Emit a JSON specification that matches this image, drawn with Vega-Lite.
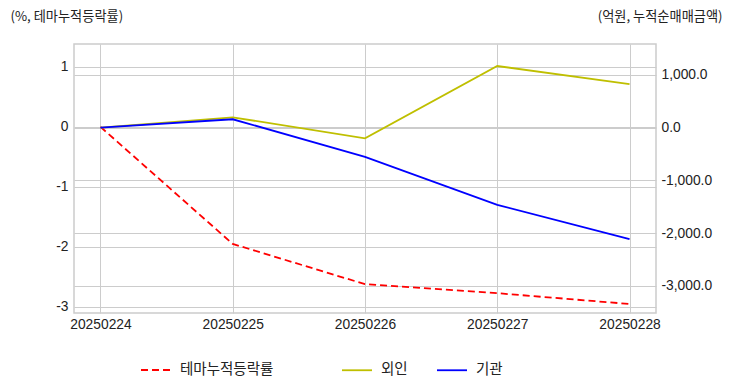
{
  "$schema": "https://vega.github.io/schema/vega-lite/v6.json",
  "width": 582,
  "height": 269,
  "autosize": {"type": "none"},
  "padding": {"left": 74, "top": 44, "right": 76, "bottom": 79},
  "background": "white",
  "config": {
    "view": {"stroke": "#cccccc", "strokeWidth": 1.5},
    "axis": {
      "labelFont": "Liberation Sans",
      "labelFontSize": 13.8,
      "labelColor": "#222222",
      "titleFont": "Noto Sans CJK KR",
      "titleFontSize": 13.2,
      "titleFontWeight": "normal",
      "titleColor": "#222222",
      "gridColor": "#cccccc",
      "gridWidth": 1,
      "domain": false,
      "ticks": false
    },
    "legend": {
      "labelFont": "Noto Sans CJK KR",
      "labelFontSize": 14.5,
      "labelColor": "#222222",
      "symbolType": "stroke",
      "symbolSize": 900,
      "symbolStrokeWidth": 1.8,
      "labelOffset": 8,
      "padding": 0,
      "direction": "horizontal",
      "orient": "none"
    }
  },
  "data": {
    "values": [
      {"date": "20250224", "series": "테마누적등락률", "value": 0},
      {"date": "20250225", "series": "테마누적등락률", "value": -1.95},
      {"date": "20250226", "series": "테마누적등락률", "value": -2.62},
      {"date": "20250227", "series": "테마누적등락률", "value": -2.77},
      {"date": "20250228", "series": "테마누적등락률", "value": -2.95},
      {"date": "20250224", "series": "외인", "value": 0},
      {"date": "20250225", "series": "외인", "value": 197},
      {"date": "20250226", "series": "외인", "value": -201},
      {"date": "20250227", "series": "외인", "value": 1170},
      {"date": "20250228", "series": "외인", "value": 827},
      {"date": "20250224", "series": "기관", "value": 0},
      {"date": "20250225", "series": "기관", "value": 160},
      {"date": "20250226", "series": "기관", "value": -553},
      {"date": "20250227", "series": "기관", "value": -1465},
      {"date": "20250228", "series": "기관", "value": -2112}
    ]
  },
  "layer": [
    {
      "transform": [{"filter": {"field": "series", "oneOf": ["테마누적등락률"]}}],
      "mark": {"type": "line", "strokeWidth": 1.8, "clip": true},
      "encoding": {
        "x": {
          "field": "date", "type": "ordinal", "sort": null,
          "scale": {"type": "point", "padding": 0.2},
          "axis": {"title": null, "labelAngle": 0, "grid": true, "labelPadding": 4}
        },
        "y": {
          "field": "value", "type": "quantitative",
          "scale": {"domain": [-3.1, 1.38], "nice": false, "zero": false},
          "axis": {
            "orient": "left", "values": [-3, -2, -1, 0, 1], "format": "d",
            "labelExpr": "replace(datum.label, '\u2212', '-')",
            "labelPadding": 6, "grid": true,
            "title": "(%, 테마누적등락률)", "titleAngle": 0,
            "titleAlign": "left", "titleBaseline": "middle",
            "titleX": -64, "titleY": -28
          }
        },
        "color": {
          "field": "series", "type": "nominal",
          "scale": {"domain": ["테마누적등락률"], "range": ["#ff0000"]},
          "legend": {"title": null, "legendX": 66, "legendY": 310}
        },
        "strokeDash": {
          "field": "series", "type": "nominal",
          "scale": {"domain": ["테마누적등락률"], "range": [[7, 4]]},
          "legend": {"title": null, "legendX": 66, "legendY": 310}
        }
      }
    },
    {
      "transform": [{"filter": {"field": "series", "oneOf": ["외인", "기관"]}}],
      "mark": {"type": "line", "strokeWidth": 1.8, "clip": true},
      "encoding": {
        "x": {
          "field": "date", "type": "ordinal", "sort": null,
          "scale": {"type": "point", "padding": 0.2},
          "axis": {"title": null, "labelAngle": 0, "grid": true, "labelPadding": 4}
        },
        "y": {
          "field": "value", "type": "quantitative",
          "scale": {"domain": [-3516, 1588], "nice": false, "zero": false},
          "axis": {
            "orient": "right", "values": [-3000, -2000, -1000, 0, 1000], "format": ",.1f",
            "labelExpr": "replace(datum.label, '\u2212', '-')",
            "labelPadding": 5, "grid": true,
            "title": "(억원, 누적순매매금액)", "titleAngle": 0,
            "titleAlign": "right", "titleBaseline": "middle",
            "titleX": 66, "titleY": -28
          }
        },
        "color": {
          "field": "series", "type": "nominal",
          "sort": ["외인", "기관"],
          "scale": {"domain": ["외인", "기관"], "range": ["#bfbf00", "#0000ff"]},
          "legend": {"title": null, "legendX": 267, "legendY": 310, "columnPadding": 25}
        }
      }
    }
  ],
  "resolve": {
    "scale": {"y": "independent", "color": "independent", "strokeDash": "independent"},
    "axis": {"y": "independent"},
    "legend": {"color": "independent", "strokeDash": "independent"}
  }
}
